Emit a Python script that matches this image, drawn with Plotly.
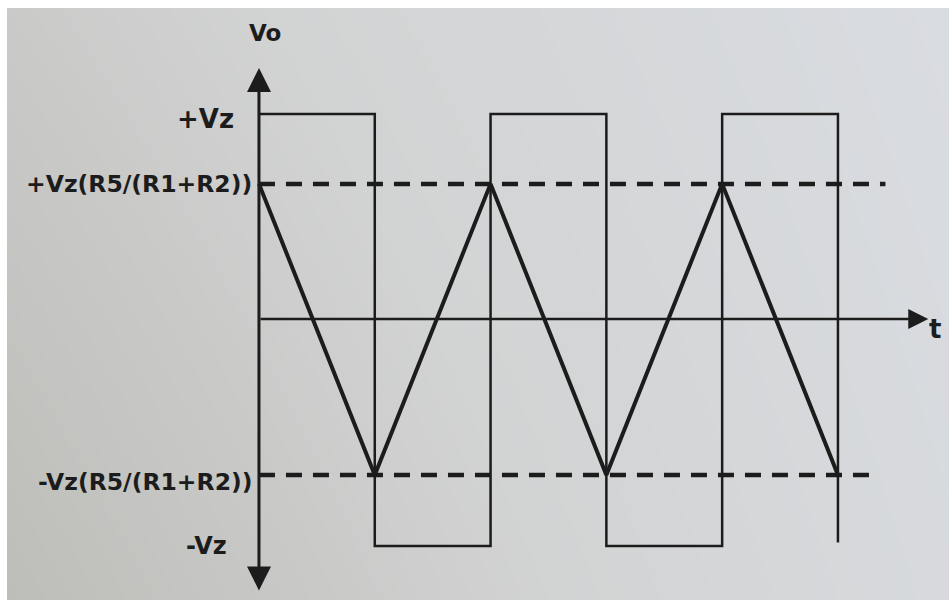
import plotly.graph_objects as go

# ---- data (t in half-periods, v in units of Vz) ----
square_t = [0, 1, 1, 2, 2, 3, 3, 4, 4, 5, 5]
square_v = [1.0, 1.0, -1.107, -1.107, 1.0, 1.0, -1.107, -1.107, 1.0, 1.0, -1.09]

tri_t = [0, 1, 2, 3, 4, 5]
tri_v = [0.659, -0.761, 0.659, -0.761, 0.659, -0.761]

thresh_hi_t = [0, 5.41]
thresh_hi_v = [0.659, 0.659]
thresh_lo_t = [0, 5.35]
thresh_lo_v = [-0.761, -0.761]

axis_x_end = 5.78
axis_y_top = 1.224
axis_y_bottom = -1.332

labels = ["Vo", "+Vz", "+Vz(R5/(R1+R2))", "-Vz(R5/(R1+R2))", "-Vz", "t"]
label_t = [0.052, -0.2, -0.045, -0.045, -0.26, 5.84]
label_v = [1.395, 0.976, 0.659, -0.795, -1.107, -0.049]
label_anchor = ["center", "right", "right", "right", "right", "center"]
label_size = [23, 26, 23.5, 23.5, 24, 26]

# paper shading of the photographed page (corner tones)
x_lo, x_hi = -2.176, 5.959
y_lo, y_hi = -1.371, 1.517
paper_tone = [[0.0, 0.85], [0.3, 1.0]]   # rows: bottom, top; cols: left, right
paper_scale = [[0.0, "#bdbdb9"], [0.5, "#d2d3d3"], [1.0, "#d9dce1"]]

ink = "#1c1c1c"
font_family = "DejaVu Sans"

fig = go.Figure()

fig.add_trace(go.Heatmap(x=[x_lo, x_hi], y=[y_lo, y_hi], z=paper_tone,
                         colorscale=paper_scale, zmin=0, zmax=1, zsmooth="best",
                         showscale=False, hoverinfo="skip"))

fig.add_trace(go.Scatter(x=thresh_hi_t, y=thresh_hi_v, mode="lines",
                         line=dict(color=ink, width=4.5, dash="16px,11px")))
fig.add_trace(go.Scatter(x=thresh_lo_t, y=thresh_lo_v, mode="lines",
                         line=dict(color=ink, width=4.5, dash="16px,11px")))
fig.add_trace(go.Scatter(x=square_t, y=square_v, mode="lines",
                         line=dict(color=ink, width=2.5)))
fig.add_trace(go.Scatter(x=tri_t, y=tri_v, mode="lines",
                         line=dict(color=ink, width=4)))

# axes drawn as arrows
fig.add_annotation(x=0, y=axis_y_top, ax=0, ay=axis_y_bottom, xref="x", yref="y",
                   axref="x", ayref="y", text="", showarrow=True, arrowhead=2,
                   arrowside="end+start", arrowsize=1.6, arrowwidth=3, arrowcolor=ink,
                   standoff=0, startstandoff=0)
fig.add_annotation(x=axis_x_end, y=0, ax=0, ay=0, xref="x", yref="y",
                   axref="x", ayref="y", text="", showarrow=True, arrowhead=2,
                   arrowsize=1.6, arrowwidth=2.5, arrowcolor=ink, standoff=0)

for txt, tx, ty, anc, sz in zip(labels, label_t, label_v, label_anchor, label_size):
    fig.add_annotation(x=tx, y=ty, xref="x", yref="y", text="<b>%s</b>" % txt,
                       showarrow=False, xanchor=anc, yanchor="middle",
                       font=dict(family=font_family, size=sz, color=ink))

fig.update_layout(
    width=949, height=600,
    margin=dict(l=7, r=0, t=8, b=0),
    paper_bgcolor="#ffffff",
    plot_bgcolor="#d0d1d2",
    showlegend=False,
    xaxis=dict(range=[x_lo, x_hi], visible=False, fixedrange=True),
    yaxis=dict(range=[y_lo, y_hi], visible=False, fixedrange=True),
)

fig.write_html("out.html", config={"displayModeBar": False},
               post_script="document.body.style.margin='0';document.body.style.overflow='hidden';")
